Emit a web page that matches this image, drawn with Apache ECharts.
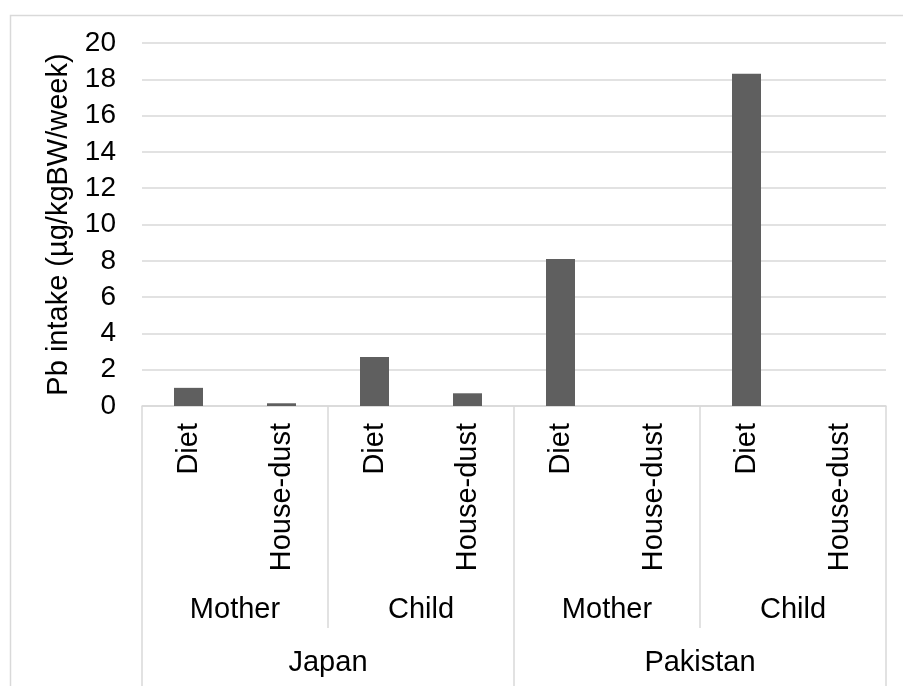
<!DOCTYPE html>
<html>
<head>
<meta charset="utf-8">
<script src="https://cdn.jsdelivr.net/npm/echarts@6/dist/echarts.min.js"></script>
<style>html,body{margin:0;padding:0;background:#fff}#c{width:903px;height:686px}</style>
</head>
<body>
<div id="c"></div>
<script>
const categories = ['Diet','House-dust','Diet','House-dust','Diet','House-dust','Diet','House-dust'];
const groups = ['Mother','Child','Mother','Child'];
const countries = ['Japan','Pakistan'];
const values = [1.0, 0.15, 2.7, 0.7, 8.1, 0, 18.3, 0];
const yTicks = {min: 0, max: 20, interval: 2};

const FONT = 'Liberation Sans, Arial, sans-serif';
const GRID = '#d9d9d9';
const FS = 29;
const chart = echarts.init(document.getElementById('c'));
chart.setOption({
  animation: false,
  backgroundColor: '#fff',
  graphic: [{
    type: 'rect', left: 8, top: 13,
    shape: {width: 910, height: 700},
    style: {fill: 'none', stroke: GRID, lineWidth: 1.5},
    silent: true
  }],
  grid: {left: 142, right: 17, top: 43, bottom: 280, containLabel: false},
  xAxis: [
    {
      type: 'category', data: categories.map((c, i) => i + '|' + c), position: 'bottom',
      axisLine: {show: true, lineStyle: {color: GRID, width: 1.5}},
      axisTick: {show: false},
      axisLabel: {rotate: 90, margin: 17, fontSize: FS, color: '#000', fontFamily: FONT, interval: 0,
        formatter: v => v.split('|')[1]}
    },
    {
      type: 'category', data: groups.map((g, i) => i + '|' + g), position: 'bottom', gridIndex: 0,
      axisLine: {show: false},
      axisTick: {show: true, length: 222, alignWithLabel: false, interval: 0, lineStyle: {color: GRID, width: 1.5}},
      axisLabel: {margin: 189, fontSize: FS, color: '#000', fontFamily: FONT, interval: 0,
        formatter: v => v.split('|')[1]}
    },
    {
      type: 'category', data: countries, position: 'bottom', gridIndex: 0,
      axisLine: {show: false},
      axisTick: {show: true, length: 290, alignWithLabel: false, interval: 0, lineStyle: {color: GRID, width: 1.5}},
      axisLabel: {margin: 242, fontSize: FS, color: '#000', fontFamily: FONT, interval: 0}
    }
  ],
  yAxis: {
    type: 'value', min: yTicks.min, max: yTicks.max, interval: yTicks.interval,
    name: 'Pb intake (µg/kgBW/week)', nameLocation: 'middle', nameGap: 66,
    nameTextStyle: {fontSize: FS, color: '#000', fontFamily: FONT},
    axisLine: {show: false}, axisTick: {show: false},
    splitLine: {lineStyle: {color: GRID, width: 1.5}},
    axisLabel: {margin: 26, fontSize: FS - 1, color: '#000', fontFamily: FONT}
  },
  series: [{
    type: 'bar', xAxisIndex: 0, data: values, barWidth: 29,
    itemStyle: {color: '#5f5f5f'}
  }]
});
</script>
</body>
</html>
